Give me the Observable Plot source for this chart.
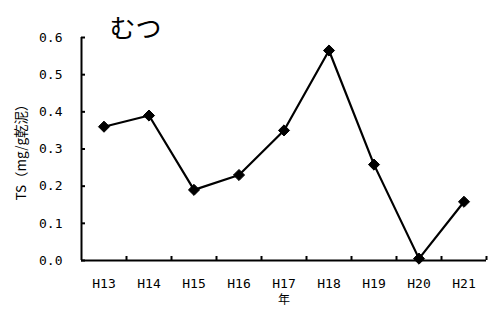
<!DOCTYPE html>
<html><head><meta charset="utf-8">
<script src="https://cdn.jsdelivr.net/npm/d3@7"></script>
<script src="https://cdn.jsdelivr.net/npm/@observablehq/plot@0.6"></script>
<style>body{margin:0;background:#fff;} svg{display:block;}</style>
</head><body><div id="chart"></div>
<script>
const years = ["H13","H14","H15","H16","H17","H18","H19","H20","H21"];
const ts = [0.36, 0.39, 0.19, 0.23, 0.35, 0.565, 0.258, 0.005, 0.158];
const yTicks = [0, 0.1, 0.2, 0.3, 0.4, 0.5, 0.6];
const title = "むつ";
const yLabel = "TS（mg/g乾泥）";
const xLabel = "年";

const data = years.map((y, i) => ({year: y, ts: ts[i]}));
const mono = "'DejaVu Sans Mono', monospace";
const cjk = "'Noto Sans CJK JP', sans-serif";

const chart = Plot.plot({
  width: 488, height: 310,
  marginTop: 37, marginBottom: 50, marginLeft: 81, marginRight: 2,
  style: {fontFamily: mono, fontSize: "13px", color: "#000", background: "#fff"},
  x: {type: "band", domain: years, padding: 0},
  y: {domain: [0, 0.6]},
  marks: [
    Plot.axisY({ticks: yTicks, tickFormat: d3.format(".1f"), tickSize: 0, tickPadding: 19,
      label: null, fontFamily: mono, fontSize: 13}),
    Plot.axisY({ticks: yTicks, tickSize: -4, tickFormat: () => "", strokeWidth: 2, label: null}),
    Plot.axisX({tickSize: 0, tickPadding: 18, label: null, fontFamily: mono, fontSize: 13}),
    Plot.axisX({tickSize: -4, dx: 22.5, tickFormat: () => "", strokeWidth: 2, label: null}),
    Plot.ruleY([0], {stroke: "#000", strokeWidth: 2}),
    Plot.ruleX([years[0]], {dx: -22.5, stroke: "#000", strokeWidth: 2}),
    Plot.line(data, {x: "year", y: "ts", stroke: "#000", strokeWidth: 2.2}),
    Plot.dot(data, {x: "year", y: "ts", symbol: "diamond2", r: 5, fill: "#000", stroke: "#000", strokeWidth: 1}),
    Plot.text([title], {frameAnchor: "top-left", dx: 54, dy: -18, textAnchor: "middle",
      fontFamily: cjk, fontSize: 26, fontWeight: "normal", fill: "#000"}),
    Plot.text([yLabel], {frameAnchor: "left", dx: -60, rotate: -90, textAnchor: "middle",
      fontFamily: cjk, fontSize: 13.5, fill: "#000"}),
    Plot.text([xLabel], {frameAnchor: "bottom", dy: 43, textAnchor: "middle",
      fontFamily: cjk, fontSize: 12, fill: "#000"})
  ]
});
document.getElementById("chart").appendChild(chart);
</script>
</body></html>
